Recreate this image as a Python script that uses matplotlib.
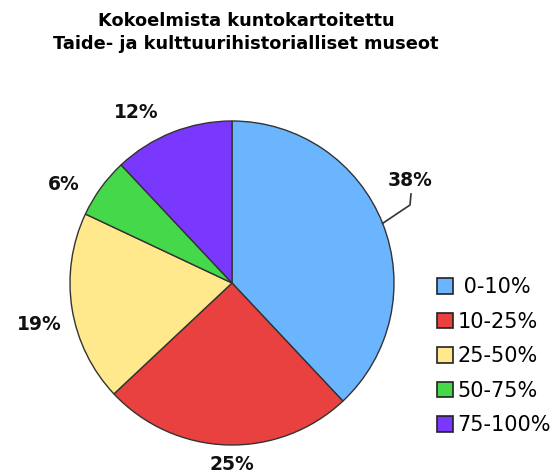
import matplotlib
matplotlib.use("Agg")
import matplotlib.pyplot as plt
import numpy as np

title = "Kokoelmista kuntokartoitettu\nTaide- ja kulttuurihistorialliset museot"
categories = ["0-10%", "10-25%", "25-50%", "50-75%", "75-100%"]
values = [38, 25, 19, 6, 12]
colors = ["#6BB5FF", "#E8413F", "#FFE98C", "#45D84A", "#7A38FF"]

W, H = 559, 476
fig = plt.figure(figsize=(W / 100, H / 100), dpi=100)
ax = fig.add_axes([0, 0, 1, 1])

cx, cy, r = 232, H - 283, 162
wedges, _ = ax.pie(values, colors=colors, startangle=90, counterclock=False,
                   center=(cx, cy), radius=r, frame=True,
                   wedgeprops=dict(edgecolor="#333333", linewidth=1.0))
ax.set_xlim(0, W)
ax.set_ylim(0, H)
ax.set_aspect("equal")
ax.axis("off")

# label positions (pixel coords from top-left)
label_pos = [(410, 181), (232, 465), (39, 325), (64, 184), (136, 113)]
for v, (px, py) in zip(values, label_pos):
    ax.text(px, H - py, f"{v}%", ha="center", va="center",
            fontsize=13.5, fontweight="bold", color="#111111")

# leader line for the 38% label
ang = np.deg2rad(90 - values[0] / sum(values) * 360 / 2)
ex, ey = cx + r * np.cos(ang), cy + r * np.sin(ang)
ax.plot([ex, 410, 411], [ey, H - 205, H - 194], color="#333333", lw=1.2)

fig.text(246 / W, 1 - 32.5 / H, title, ha="center", va="center",
         fontsize=12.8, fontweight="bold", linespacing=1.4)

leg = ax.legend(wedges, [" " + categories[0]] + categories[1:], loc="upper left",
                bbox_to_anchor=(437 / W, 1 - 277 / H), frameon=False,
                fontsize=15, handlelength=0.77, handleheight=0.77,
                handletextpad=0.2, labelspacing=0.7, borderaxespad=0,
                borderpad=0)
for h in leg.legend_handles:
    h.set_edgecolor("#222222")
    h.set_linewidth(1.2)

fig.savefig("out.png", dpi=100)
